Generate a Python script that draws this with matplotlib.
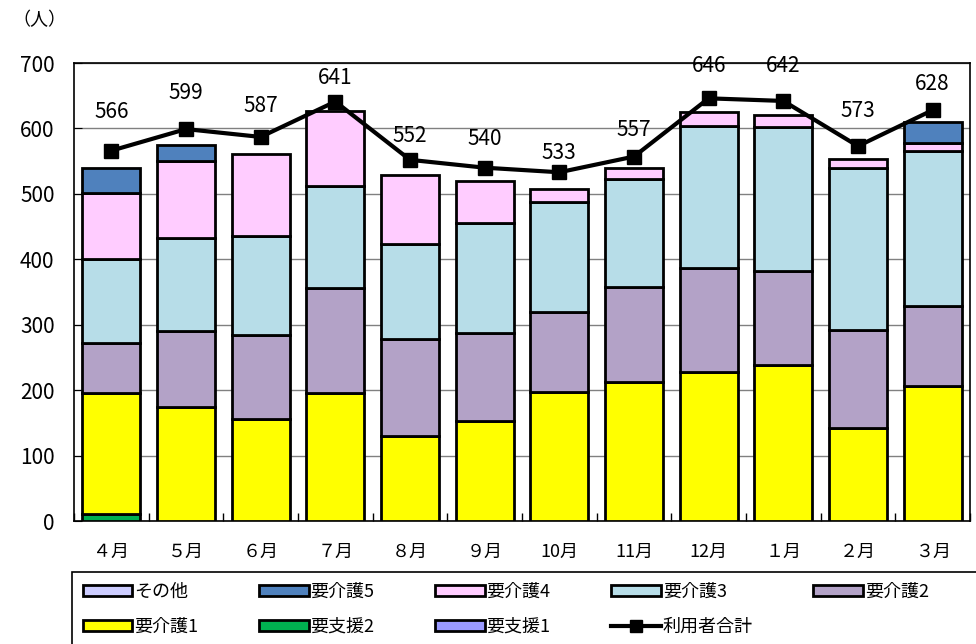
import matplotlib
matplotlib.use("Agg")
import matplotlib.pyplot as plt
import numpy as np
from matplotlib.patches import Patch, Rectangle
from matplotlib.lines import Line2D

plt.rcParams['font.family'] = ['Noto Sans CJK JP', 'DejaVu Sans']

months = ["４月", "５月", "６月", "７月", "８月", "９月", "10月", "11月", "12月", "１月", "２月", "３月"]

youshien1 = [0, 0, 0, 0, 0, 0, 0, 0, 0, 0, 0, 0]
youshien2 = [10, 0, 0, 0, 0, 0, 0, 0, 0, 0, 0, 0]
kaigo1 = [186, 175, 156, 195, 130, 153, 197, 212, 227, 238, 142, 206]
kaigo2 = [76, 116, 128, 161, 148, 134, 122, 145, 160, 144, 150, 122]
kaigo3 = [128, 141, 151, 156, 145, 168, 168, 166, 217, 220, 247, 238]
kaigo4 = [101, 118, 126, 115, 106, 65, 20, 16, 21, 18, 15, 11]
kaigo5 = [39, 25, 0, 0, 0, 0, 0, 0, 0, 0, 0, 33]
sonota = [0, 0, 0, 0, 0, 0, 0, 0, 0, 0, 0, 0]
total_users = [566, 599, 587, 641, 552, 540, 533, 557, 646, 642, 573, 628]

# vertical label offsets (points) above the markers
label_offsets = [28, 26, 22, 17, 17, 21, 14, 19, 23, 25, 25, 19]

series = [
    ("要支援1", youshien1, "#9999FF"),
    ("要支援2", youshien2, "#00B050"),
    ("要介護1", kaigo1, "#FFFF00"),
    ("要介護2", kaigo2, "#B3A2C7"),
    ("要介護3", kaigo3, "#B7DDE8"),
    ("要介護4", kaigo4, "#FFCCFF"),
    ("要介護5", kaigo5, "#4F81BD"),
    ("その他", sonota, "#CCCCFF"),
]

fig = plt.figure(figsize=(9.76, 6.44), dpi=100)
ax = fig.add_axes([74/976, 1-521/644, (970-74)/976, (521-63)/644])

x = np.arange(len(months))
bottom = np.zeros(len(months))
for name, vals, col in series:
    v = np.array(vals, dtype=float)
    mask = v > 0
    ax.bar(x[mask], v[mask], bottom=bottom[mask], width=0.78, color=col,
           edgecolor="black", linewidth=2, zorder=3)
    bottom += v

ax.plot(x, total_users, color="black", linewidth=3, marker="s", markersize=10,
        zorder=5)
for xi, yi, off in zip(x, total_users, label_offsets):
    ax.annotate(str(yi), (xi, yi), xytext=(0, off), textcoords="offset points",
                ha="center", va="center", fontsize=15, zorder=6)

ax.set_xlim(-0.5, len(months) - 0.5)
ax.set_ylim(0, 700)
ax.set_yticks(np.arange(0, 701, 100))
ax.yaxis.grid(True, color="#808080", linewidth=1, zorder=0)
ax.set_axisbelow(True)
ax.tick_params(axis="y", direction="in", length=6, labelsize=15, pad=14)
ax.set_xticks(x)
ax.set_xticklabels(months, fontsize=13)
ax.tick_params(axis="x", which="major", length=0, pad=16)
ax.set_xticks(np.arange(-0.5, len(months), 1), minor=True)
ax.tick_params(axis="x", which="minor", direction="in", length=6, width=1)
for s in ax.spines.values():
    s.set_color("black")
    s.set_linewidth(1.2)

fig.text(12/976, 1-20/644, "（人）", fontsize=13, va="center", ha="left")

def ph(col):
    return Patch(facecolor=col, edgecolor="black", linewidth=2)

items = [
    (ph("#CCCCFF"), "その他"),
    (ph("#4F81BD"), "要介護5"),
    (ph("#FFCCFF"), "要介護4"),
    (ph("#B7DDE8"), "要介護3"),
    (ph("#B3A2C7"), "要介護2"),
    (ph("#FFFF00"), "要介護1"),
    (ph("#00B050"), "要支援2"),
    (ph("#9999FF"), "要支援1"),
    (Line2D([], [], color="black", linewidth=3, marker="s", markersize=9), "利用者合計"),
]
order = [0, 5, 1, 6, 2, 7, 3, 8, 4]
handles = [items[i][0] for i in order]
labels = [items[i][1] for i in order]
leg = fig.legend(handles, labels, ncol=5, loc="upper left",
                 bbox_to_anchor=(72/976, 0.0, 0.889, 1-572/644),
                 mode="expand", fontsize=13, frameon=False,
                 handlelength=2.75, handleheight=0.55,
                 handletextpad=0.1, labelspacing=0.95, borderpad=0.6,
                 borderaxespad=0)
# legend frame running off the right and bottom edges, as in the reference
fig.patches.append(Rectangle((72/976, -0.02), 1.0, 1-572/644 + 0.02,
                             transform=fig.transFigure, fill=False,
                             edgecolor="black", linewidth=1.2))

fig.savefig("out.png", dpi=100)
